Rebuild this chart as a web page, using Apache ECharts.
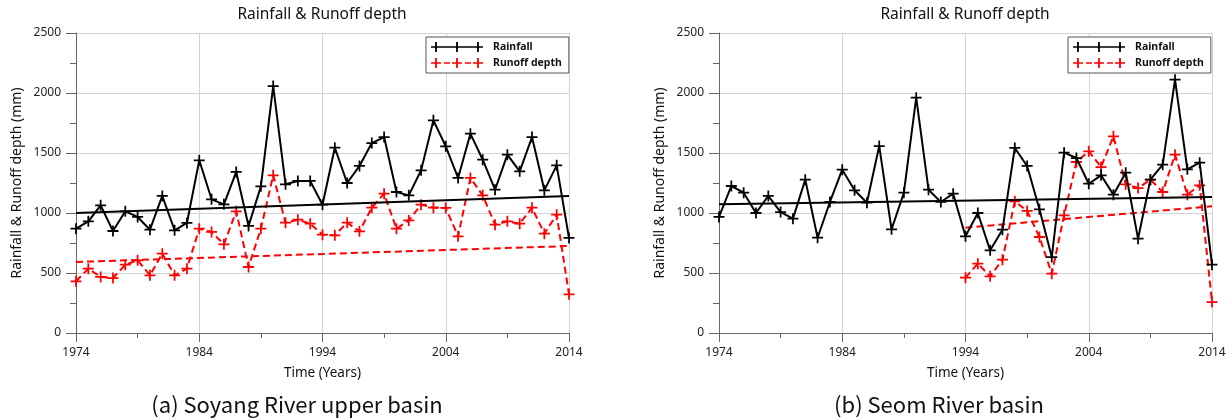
<!DOCTYPE html>
<html>
<head>
<meta charset="utf-8">
<script src="https://cdn.jsdelivr.net/npm/echarts@6/dist/echarts.min.js"></script>
<style>
html,body{margin:0;padding:0;background:#fff;}
#chart{width:1232px;height:420px;}
</style>
</head>
<body>
<div id="chart"></div>
<script>
// ---------- data ----------
const years = [1974,1975,1976,1977,1978,1979,1980,1981,1982,1983,
               1984,1985,1986,1987,1988,1989,1990,1991,1992,1993,
               1994,1995,1996,1997,1998,1999,2000,2001,2002,2003,
               2004,2005,2006,2007,2008,2009,2010,2011,2012,2013,2014];
const xTickYears = [1974,1984,1994,2004,2014];

const soyangRain = [869,931,1064,850,1014,967,861,1142,856,917,
                    1439,1114,1072,1342,892,1222,2058,1239,1267,1267,
                    1069,1544,1250,1392,1583,1633,1175,1147,1356,1772,
                    1556,1292,1661,1444,1194,1486,1347,1633,1189,1397,792];
const soyangRunoff = [431,536,467,458,569,606,481,661,481,536,
                      869,842,739,1014,550,869,1314,919,944,911,
                      819,814,919,847,1044,1161,869,938,1069,1044,
                      1042,806,1292,1147,903,931,911,1044,828,986,322];
const seomRain = [967,1225,1169,1000,1142,1008,953,1278,794,1092,
                  1361,1189,1086,1558,864,1169,1961,1194,1092,1161,
                  806,1000,689,861,1542,1392,1031,633,1503,1458,
                  1244,1314,1153,1336,786,1278,1403,2111,1364,1419,569];
const seomRunoff = [null,null,null,null,null,null,null,null,null,null,
                    null,null,null,null,null,null,null,null,null,null,
                    461,578,472,611,1097,1017,800,494,981,1425,
                    1514,1383,1639,1239,1208,1278,1175,1486,1153,1231,258];

// linear trend lines: [start year, end year] and the values read at their ends
const soyangTrendYears = [1974,2014];
const soyangRainTrend = [1000,1142];
const soyangRunoffTrend = [592,725];
const seomRainTrendYears = [1974,2014];
const seomRainTrend = [1072,1133];
const seomRunoffTrendYears = [1994,2014];
const seomRunoffTrend = [878,1056];

const chartTitle = 'Rainfall & Runoff depth';
const yName = 'Rainfall & Runoff depth (mm)';
const xName = 'Time (Years)';
const captions = ['(a) Soyang River upper basin', '(b) Seom River basin'];
const seriesNames = ['Rainfall', 'Runoff depth'];

// ---------- chart ----------
const BASE = years[0];
const FONT = '"Noto Sans", "DejaVu Sans", sans-serif';
const toPairs = (xs, vs) => xs.map((y, i) => vs[i] == null ? null : [y - BASE, vs[i]]).filter(p => p);

const PLUS = 'path://M4.2,0H5.8V4.2H10V5.8H5.8V10H4.2V5.8H0V4.2H4.2Z';
const ICON_RAIN = 'path://M0,4.2H52V5.8H0Z M4.1,0H5.9V10H4.1Z M25.1,0H26.9V10H25.1Z M46.1,0H47.9V10H46.1Z';
const ICON_RUN = 'path://M0,4.2H10V5.8H0Z M4.1,0H5.9V10H4.1Z M13,4.2H19V5.8H13Z M21,4.2H31V5.8H21Z M25.1,0H26.9V10H25.1Z M34,4.2H40V5.8H34Z M42,4.2H52V5.8H42Z M46.1,0H47.9V10H46.1Z';

const grids = [
  {left: 76, top: 33, width: 493, height: 300},
  {left: 719, top: 33, width: 493, height: 300}
];

function xAxisFor(i) {
  return {
    gridIndex: i, type: 'value', min: 0, max: 40, interval: 10,
    name: xName, nameLocation: 'middle', nameGap: 33,
    nameTextStyle: {fontFamily: FONT, fontSize: 13.5, color: '#111'},
    axisLine: {show: true, onZero: false, lineStyle: {color: '#666', width: 1}},
    axisTick: {show: true, inside: false, length: 9, lineStyle: {color: '#666'}},
    minorTick: {show: true, splitNumber: 2, length: 5, lineStyle: {color: '#666'}},
    axisLabel: {margin: 14, fontFamily: FONT, fontSize: 12, color: '#222',
      formatter: v => String(xTickYears.find(y => y - BASE === v) ?? '')},
    splitLine: {show: true, lineStyle: {color: '#d3d3d3', width: 1}}
  };
}
function yAxisFor(i) {
  return {
    gridIndex: i, type: 'value', min: 0, max: 2500, interval: 500,
    name: yName, nameLocation: 'middle', nameGap: 52, nameRotate: 90,
    nameTextStyle: {fontFamily: FONT, fontSize: 14, color: '#111'},
    axisLine: {show: true, lineStyle: {color: '#666', width: 1}},
    axisTick: {show: true, inside: false, length: 10, lineStyle: {color: '#666'}},
    minorTick: {show: true, splitNumber: 2, length: 6, lineStyle: {color: '#666'}},
    axisLabel: {margin: 15, fontFamily: FONT, fontSize: 12, color: '#222', formatter: v => String(v)},
    splitLine: {show: true, lineStyle: {color: '#d3d3d3', width: 1}}
  };
}

function dataSeries(name, i, pairs, color, dashed, z) {
  return {
    name: name, type: 'line', xAxisIndex: i, yAxisIndex: i, data: pairs,
    symbol: PLUS, symbolSize: 11, showAllSymbol: true,
    itemStyle: {color: color, borderWidth: 0},
    lineStyle: {color: color, width: 2, type: dashed ? [7, 4] : 'solid'},
    z: z, animation: false
  };
}
function trendSeries(name, i, pairs, color, dashed, z) {
  return {
    name: name, type: 'line', xAxisIndex: i, yAxisIndex: i, data: pairs,
    symbol: 'none', silent: true,
    lineStyle: {color: color, width: 2, type: dashed ? [7, 4] : 'solid'},
    z: z, animation: false
  };
}

function legendFor(left) {
  return {
    orient: 'vertical', left: left, top: 37,
    padding: [3, 7, 3, 5], itemGap: 2,
    itemWidth: 52, itemHeight: 10,
    borderColor: '#555', borderWidth: 1, backgroundColor: '#fff',
    selectedMode: false,
    textStyle: {fontFamily: FONT, fontSize: 10.5, fontWeight: 'bold', color: '#111', lineHeight: 14, padding: [0, 0, 0, 5]},
    data: [
      {name: seriesNames[0], icon: ICON_RAIN, itemStyle: {color: '#000', borderWidth: 0}},
      {name: seriesNames[1], icon: ICON_RUN, itemStyle: {color: '#ff0000', borderWidth: 0}}
    ]
  };
}

const option = {
  animation: false,
  backgroundColor: '#fff',
  grid: grids,
  xAxis: [xAxisFor(0), xAxisFor(1)],
  yAxis: [yAxisFor(0), yAxisFor(1)],
  legend: [legendFor(426), legendFor(1068)],
  series: [
    trendSeries('Runoff trend a', 0, toPairs(soyangTrendYears, soyangRunoffTrend), '#ff0000', true, 2),
    dataSeries(seriesNames[1], 0, toPairs(years, soyangRunoff), '#ff0000', true, 3),
    trendSeries('Rainfall trend a', 0, toPairs(soyangTrendYears, soyangRainTrend), '#000', false, 4),
    dataSeries(seriesNames[0], 0, toPairs(years, soyangRain), '#000', false, 5),

    trendSeries('Runoff trend b', 1, toPairs(seomRunoffTrendYears, seomRunoffTrend), '#ff0000', true, 2),
    dataSeries(seriesNames[1], 1, toPairs(years, seomRunoff), '#ff0000', true, 3),
    trendSeries('Rainfall trend b', 1, toPairs(seomRainTrendYears, seomRainTrend), '#000', false, 4),
    dataSeries(seriesNames[0], 1, toPairs(years, seomRain), '#000', false, 5)
  ],
  graphic: [
    {type: 'text', x: 322, y: 15, style: {text: chartTitle, font: '15.5px ' + FONT, fill: '#111', align: 'center', verticalAlign: 'middle'}},
    {type: 'text', x: 965, y: 15, style: {text: chartTitle, font: '15.5px ' + FONT, fill: '#111', align: 'center', verticalAlign: 'middle'}},
    {type: 'text', x: 297, y: 405, style: {text: captions[0], font: '22px "Noto Sans CJK KR", sans-serif', fill: '#111', align: 'center', verticalAlign: 'middle'}},
    {type: 'text', x: 939, y: 405, style: {text: captions[1], font: '22px "Noto Sans CJK KR", sans-serif', fill: '#111', align: 'center', verticalAlign: 'middle'}}
  ]
};

const chart = echarts.init(document.getElementById('chart'), null, {renderer: 'canvas'});
chart.setOption(option);
</script>
</body>
</html>
